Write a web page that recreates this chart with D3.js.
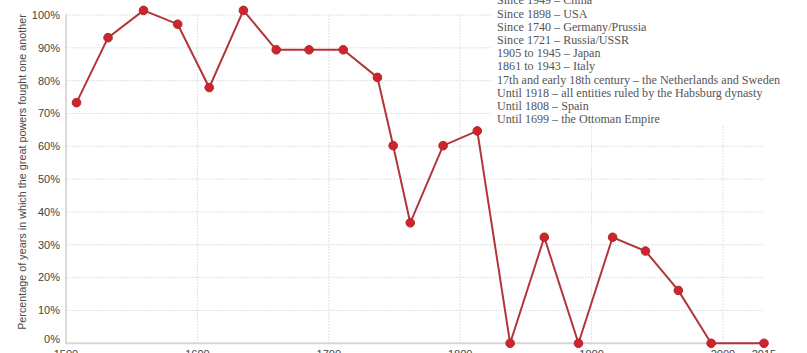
<!DOCTYPE html>
<html><head><meta charset="utf-8">
<script src="https://cdn.jsdelivr.net/npm/d3@7"></script>
<style>
html,body{margin:0;padding:0;background:#fff;}
svg{display:block;}
</style></head>
<body>
<svg id="chart" width="807" height="353"></svg>
<script>
const years = [1508,1532,1559,1585,1609,1635,1660,1685,1711,1737,1749,1762,1787,1813,1838,1864,1890,1916,1941,1966,1991,2015];
const values = [73.3,93.1,101.4,97.2,77.9,101.4,89.4,89.4,89.4,81.0,60.2,36.7,60.2,64.7,0,32.3,0,32.3,28.1,16.1,0,0];
const xTicks = [1500,1600,1700,1800,1900,2000,2015];
const yTicks = [0,10,20,30,40,50,60,70,80,90,100];
const notes = [
  "Since 1949 – China",
  "Since 1898 – USA",
  "Since 1740 – Germany/Prussia",
  "Since 1721 – Russia/USSR",
  "1905 to 1945 – Japan",
  "1861 to 1943 – Italy",
  "17th and early 18th century – the Netherlands and Sweden",
  "Until 1918 – all entities ruled by the Habsburg dynasty",
  "Until 1808 – Spain",
  "Until 1699 – the Ottoman Empire"
];
const yTitle = "Percentage of years in which the great powers fought one another";

const svg = d3.select("#chart");
const x = d3.scaleLinear().domain([1500,2000,2015]).range([66,723,764]);
const y = d3.scaleLinear().domain([0,100]).range([343.3,15]);
const left = 66, right = 763;

// horizontal gridlines
svg.append("g").selectAll("line").data(yTicks.filter(d=>d>0)).join("line")
  .attr("x1",left).attr("x2",right)
  .attr("y1",d=>y(d)).attr("y2",d=>y(d))
  .attr("stroke","#e2e2e2").attr("stroke-width",1).attr("stroke-dasharray","2,1");
// vertical gridlines
svg.append("g").selectAll("line").data(xTicks.filter(d=>d>1500 && d<2015)).join("line")
  .attr("x1",d=>x(d)).attr("x2",d=>x(d))
  .attr("y1",y(100)).attr("y2",y(0))
  .attr("stroke","#e2e2e2").attr("stroke-width",1).attr("stroke-dasharray","2,1");

// axes lines
svg.append("line").attr("x1",left).attr("x2",left).attr("y1",y(100)).attr("y2",y(0)+1)
  .attr("stroke","#cfcfcf").attr("stroke-width",1.5);
svg.append("line").attr("x1",left).attr("x2",right).attr("y1",y(0)).attr("y2",y(0))
  .attr("stroke","#d6d6d6").attr("stroke-width",2);

// y tick labels
svg.append("g").selectAll("text").data(yTicks).join("text")
  .attr("x",60).attr("y",d=>y(d)+(d===0?-4:0)).attr("dy","0.35em")
  .attr("text-anchor","end")
  .attr("font-family","Liberation Sans, Arial, sans-serif").attr("font-size",11)
  .attr("fill","#444").text(d=>d+"%");

// x tick labels
svg.append("g").selectAll("text").data(xTicks).join("text")
  .attr("x",d=>x(d)).attr("y",358)
  .attr("text-anchor","middle")
  .attr("font-family","Liberation Sans, Arial, sans-serif").attr("font-size",11)
  .attr("fill","#444").text(d=>d);

// y title
svg.append("text")
  .attr("transform","translate(26,172) rotate(-90)")
  .attr("text-anchor","middle")
  .attr("font-family","Liberation Sans, Arial, sans-serif").attr("font-size",10.8)
  .attr("fill","#4a4a4a").text(yTitle);

// line
const pts = years.map((d,i)=>[d,values[i]]);
svg.append("path").datum(pts)
  .attr("fill","none").attr("stroke","#b2353a").attr("stroke-width",2)
  .attr("d",d3.line().x(d=>x(d[0])).y(d=>y(d[1])));
svg.append("g").selectAll("circle").data(pts).join("circle")
  .attr("cx",d=>x(d[0])).attr("cy",d=>y(d[1])).attr("r",4.3)
  .attr("fill","#d0232b").attr("stroke","#a92a2f").attr("stroke-width",1);

// annotation box
svg.append("rect").attr("x",492).attr("y",0).attr("width",315).attr("height",126).attr("fill","#fff");
svg.append("g").selectAll("text").data(notes).join("text")
  .attr("x",497).attr("y",(d,i)=>i*13.2+4.3)
  .attr("font-family","Liberation Serif, Times New Roman, serif").attr("font-size",12.1)
  .attr("fill","#555").text(d=>d);
</script>
</body></html>
